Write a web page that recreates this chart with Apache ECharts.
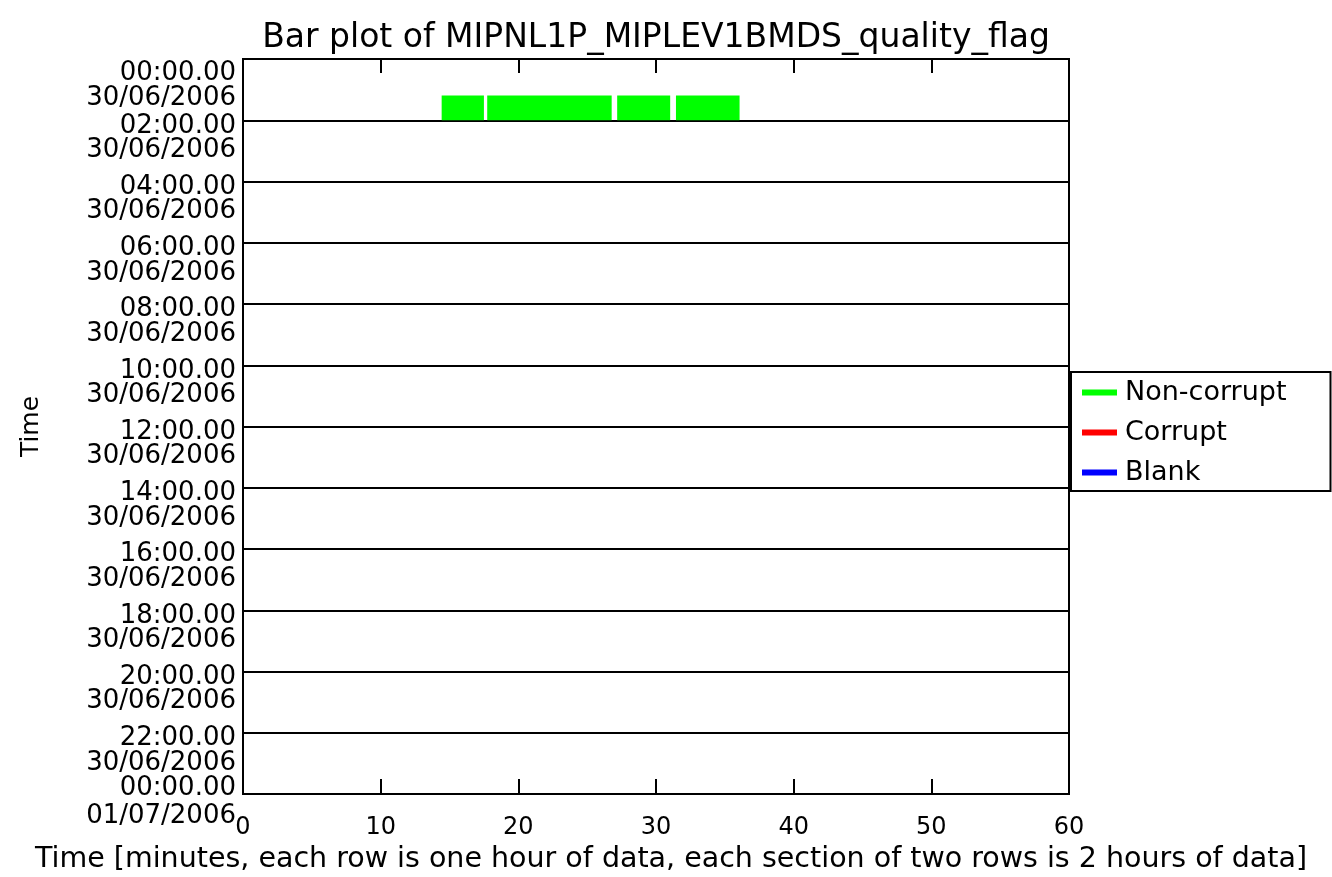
<!DOCTYPE html>
<html>
<head>
<meta charset="utf-8">
<script src="https://cdn.jsdelivr.net/npm/echarts@6/dist/echarts.min.js"></script>
<style>
html,body{margin:0;padding:0;background:#fff;}
#chart{width:1332px;height:877px;}
</style>
</head>
<body>
<div id="chart"></div>
<script>
// ---- data ----
const seriesNames = ['Non-corrupt', 'Corrupt', 'Blank'];
const seriesColors = ['#00ff00', '#ff0000', '#0000ff'];
// Non-corrupt segments (minutes within the hour, hour of day)
const nonCorruptStart = [14.43, 17.74, 27.18, 31.45];
const nonCorruptEnd   = [17.50, 26.78, 31.03, 36.07];
const nonCorruptHour  = [1, 1, 1, 1];
const corruptStart = [], corruptEnd = [], corruptHour = [];
const blankStart = [], blankEnd = [], blankHour = [];
// tick labels
const xTicks = [0, 10, 20, 30, 40, 50, 60];
const yTickHours = [0, 2, 4, 6, 8, 10, 12, 14, 16, 18, 20, 22, 24];
const yTickTimes = ['00:00.00','02:00.00','04:00.00','06:00.00','08:00.00','10:00.00','12:00.00','14:00.00','16:00.00','18:00.00','20:00.00','22:00.00','00:00.00'];
const yTickDates = ['30/06/2006','30/06/2006','30/06/2006','30/06/2006','30/06/2006','30/06/2006','30/06/2006','30/06/2006','30/06/2006','30/06/2006','30/06/2006','30/06/2006','01/07/2006'];

const FONT = 'DejaVu Sans';
const LBL = 26;

function build(s, e, h) {
  return s.map((v, i) => [v, e[i], h[i]]);
}
const seriesData = [
  build(nonCorruptStart, nonCorruptEnd, nonCorruptHour),
  build(corruptStart, corruptEnd, corruptHour),
  build(blankStart, blankEnd, blankHour)
];

function renderItem(params, api) {
  const s = api.value(0), e = api.value(1), h = api.value(2);
  const p1 = api.coord([s, h + 0.19]);
  const p2 = api.coord([e, h + 1]);
  return {
    type: 'rect',
    shape: { x: p1[0], y: Math.min(p1[1], p2[1]), width: p2[0] - p1[0], height: Math.abs(p2[1] - p1[1]) },
    style: { fill: api.visual('color') }
  };
}

const yBase = {
  type: 'value', min: yTickHours[0], max: yTickHours[yTickHours.length - 1], interval: 2,
  inverse: true, position: 'left'
};
const xBase = {
  type: 'value', min: xTicks[0], max: xTicks[xTicks.length - 1], interval: 10
};

const chart = echarts.init(document.getElementById('chart'), null, { renderer: 'canvas' });
chart.setOption({
  animation: false,
  backgroundColor: '#fff',
  textStyle: { fontFamily: FONT, color: '#000' },
  title: {
    text: 'Bar plot of MIPNL1P_MIPLEV1BMDS_quality_flag',
    left: 651, textAlign: 'center', top: 17,
    textStyle: { fontFamily: FONT, fontSize: 33, fontWeight: 'normal', color: '#000' }
  },
  legend: {
    orient: 'vertical',
    left: 1071, top: 372,
    padding: [7, 44, 5, 11],
    itemGap: 13,
    itemWidth: 35, itemHeight: 6,
    itemStyle: { borderWidth: 0 },
    icon: 'rect',
    borderColor: '#000', borderWidth: 2,
    backgroundColor: '#fff',
    textStyle: { fontFamily: FONT, fontSize: 27, color: '#000', padding: [0, 0, 0, 3] },
    data: seriesNames
  },
  grid: [{
    left: 243, right: 263, top: 59, bottom: 83,
    containLabel: false, outerBoundsMode: 'none',
    show: true, borderColor: '#000', borderWidth: 2, backgroundColor: 'transparent'
  }, {
    // helper grid, same size shifted down, only carries the date labels
    left: 243, right: 263, top: 85, bottom: 57,
    containLabel: false, outerBoundsMode: 'none',
    show: false
  }],
  xAxis: [Object.assign({}, xBase, {
    gridIndex: 0, position: 'bottom',
    name: 'Time [minutes, each row is one hour of data, each section of two rows is 2 hours of data]',
    nameLocation: 'middle', nameGap: 50,
    nameTextStyle: { fontFamily: FONT, fontSize: 28.5, color: '#000', padding: [0, 0, 0, 30] },
    axisLine: { show: true, onZero: false, lineStyle: { color: '#000', width: 2 } },
    axisTick: { show: true, inside: true, length: 15, lineStyle: { color: '#000', width: 2 } },
    axisLabel: { show: true, margin: 22, fontFamily: FONT, fontSize: 24, color: '#000' },
    splitLine: { show: false }
  }), Object.assign({}, xBase, {
    gridIndex: 0, position: 'top',
    axisLine: { show: true, onZero: false, lineStyle: { color: '#000', width: 2 } },
    axisTick: { show: true, inside: true, length: 14, lineStyle: { color: '#000', width: 2 } },
    axisLabel: { show: false },
    splitLine: { show: false }
  }), Object.assign({}, xBase, {
    gridIndex: 1, show: false
  })],
  yAxis: [Object.assign({}, yBase, {
    gridIndex: 0,
    name: 'Time', nameLocation: 'middle', nameGap: 199, nameRotate: 90,
    nameTextStyle: { fontFamily: FONT, fontSize: 25, color: '#000' },
    axisLine: { show: true, onZero: false, lineStyle: { color: '#000', width: 2 } },
    axisTick: { show: false },
    splitLine: { show: true, lineStyle: { color: '#000', width: 2 } },
    axisLabel: {
      show: true, margin: 7, showMinLabel: true, showMaxLabel: true,
      verticalAlign: 'middle', align: 'right',
      fontFamily: FONT, fontSize: LBL, color: '#000',
      formatter: function (value) {
        const i = yTickHours.indexOf(value);
        if (i < 0) return '';
        const st = i === 0 ? 't0' : (i === yTickHours.length - 1 ? 't2' : 't');
        return '{' + st + '|' + yTickTimes[i] + '}';
      },
      rich: {
        t: { lineHeight: 25, fontSize: LBL, fontFamily: FONT, color: '#000', padding: [11, 0, 0, 0] },
        t0: { lineHeight: 25, fontSize: LBL, fontFamily: FONT, color: '#000', padding: [29, 0, 0, 0] },
        t2: { lineHeight: 25, fontSize: LBL, fontFamily: FONT, color: '#000', padding: [0, 0, 12, 0] }
      }
    }
  }), Object.assign({}, yBase, {
    gridIndex: 1,
    axisLine: { show: false, onZero: false },
    axisTick: { show: false },
    splitLine: { show: false },
    axisLabel: {
      show: true, margin: 7, showMinLabel: true, showMaxLabel: true,
      verticalAlign: 'middle', align: 'right',
      fontFamily: FONT, fontSize: LBL, color: '#000',
      formatter: function (value) {
        const i = yTickHours.indexOf(value);
        if (i < 0) return '';
        const st = i === 0 ? 'd0' : (i === yTickHours.length - 1 ? 'd2' : 'd');
        return '{' + st + '|' + yTickDates[i] + '}';
      },
      rich: {
        d: { lineHeight: 25, fontSize: LBL, fontFamily: FONT, color: '#000', padding: [8, 0, 0, 0] },
        d0: { lineHeight: 25, fontSize: LBL, fontFamily: FONT, color: '#000', padding: [26, 0, 0, 0] },
        d2: { lineHeight: 25, fontSize: LBL, fontFamily: FONT, color: '#000', padding: [0, 0, 8, 0] }
      }
    }
  })],
  series: seriesNames.map((name, k) => ({
    name: name,
    type: 'custom',
    renderItem: renderItem,
    xAxisIndex: 0,
    yAxisIndex: 0,
    encode: { x: [0, 1], y: 2 },
    itemStyle: { color: seriesColors[k] },
    data: seriesData[k],
    z: 1
  }))
});
</script>
</body>
</html>
